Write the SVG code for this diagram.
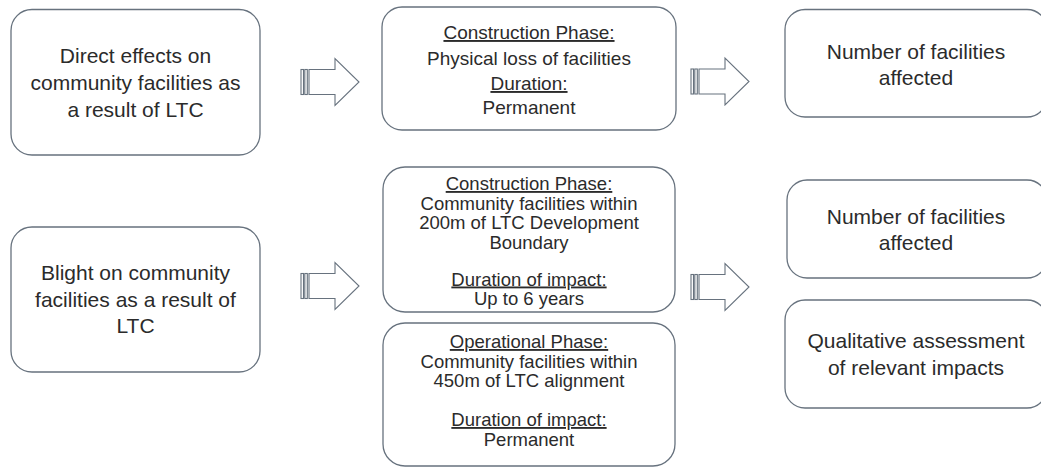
<svg xmlns="http://www.w3.org/2000/svg" width="1041" height="467" viewBox="0 0 1041 467">
<style>
.box{fill:#ffffff;stroke:#67727e;stroke-width:1.3}
.arr{fill:#ffffff;stroke:#67727e;stroke-width:1.1}
text{font-family:"Liberation Sans",Arial,sans-serif;fill:#2b2b2b;text-anchor:middle}
.t21{font-size:21px}
.t19{font-size:19px}
.t18{font-size:18.5px}
.u{text-decoration:underline}
</style>
<defs>
<g id="sarrow">
<rect x="0" y="-12.5" width="2.5" height="25" class="arr"/>
<rect x="3.8" y="-12.5" width="2.5" height="25" class="arr"/>
<path d="M8,-12.5 H34 V-23.5 L58,0 L34,23.5 V12.5 H8 Z" class="arr"/>
</g>
</defs>
<rect width="1041" height="467" fill="#ffffff"/>

<g id="connectors">
<use href="#sarrow" x="301" y="82"/>
<use href="#sarrow" x="691" y="81.5"/>
<use href="#sarrow" x="301" y="286"/>
<use href="#sarrow" x="691" y="287"/>
</g>

<g id="node-direct">
<rect x="11" y="9.5" width="249" height="145.5" rx="21" class="box"/>
<text class="t21" x="135.5" y="63">Direct effects on</text>
<text class="t21" x="135.5" y="90">community facilities as</text>
<text class="t21" x="135.5" y="117">a result of LTC</text>
</g>

<g id="node-construction-loss">
<rect x="382" y="7" width="294" height="123" rx="20" class="box"/>
<text class="t19 u" x="529" y="39">Construction Phase:</text>
<text class="t19" x="529" y="65">Physical loss of facilities</text>
<text class="t19 u" x="529" y="90">Duration:</text>
<text class="t19" x="529" y="114">Permanent</text>
</g>

<g id="node-number-1">
<rect x="785" y="9.5" width="262" height="107.5" rx="20" class="box"/>
<text class="t21" x="916" y="59">Number of facilities</text>
<text class="t21" x="916" y="85">affected</text>
</g>

<g id="node-blight">
<rect x="11" y="227" width="249" height="145" rx="21" class="box"/>
<text class="t21" x="135.5" y="280">Blight on community</text>
<text class="t21" x="135.5" y="307">facilities as a result of</text>
<text class="t21" x="135.5" y="333">LTC</text>
</g>

<g id="node-construction-blight">
<rect x="383" y="167" width="292" height="145" rx="22" class="box"/>
<text class="t18 u" x="529" y="190">Construction Phase:</text>
<text class="t18" x="529" y="209.5">Community facilities within</text>
<text class="t18" x="529" y="229">200m of LTC Development</text>
<text class="t18" x="529" y="248.5">Boundary</text>
<text class="t18 u" x="529" y="285.5">Duration of impact:</text>
<text class="t18" x="529" y="305">Up to 6 years</text>
</g>

<g id="node-operational">
<rect x="383" y="323" width="292" height="143" rx="22" class="box"/>
<text class="t18 u" x="529" y="348">Operational Phase:</text>
<text class="t18" x="529" y="367.5">Community facilities within</text>
<text class="t18" x="529" y="387">450m of LTC alignment</text>
<text class="t18 u" x="529" y="426">Duration of impact:</text>
<text class="t18" x="529" y="445.5">Permanent</text>
</g>

<g id="node-number-2">
<rect x="787" y="180" width="260" height="98" rx="20" class="box"/>
<text class="t21" x="916" y="223.5">Number of facilities</text>
<text class="t21" x="916" y="250">affected</text>
</g>

<g id="node-qualitative">
<rect x="785" y="300" width="262" height="108" rx="20" class="box"/>
<text class="t21" x="916" y="348">Qualitative assessment</text>
<text class="t21" x="916" y="375">of relevant impacts</text>
</g>
</svg>
